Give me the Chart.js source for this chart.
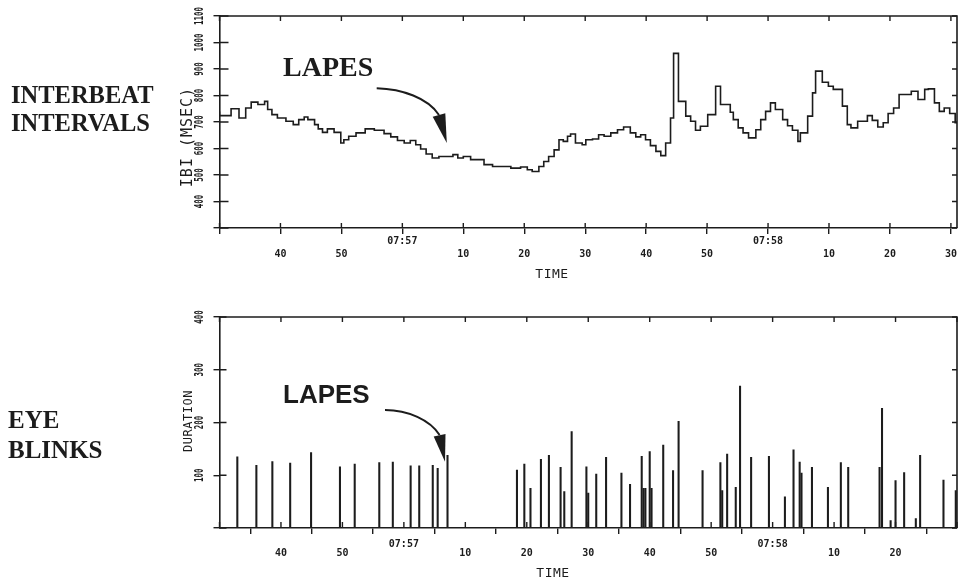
<!DOCTYPE html>
<html>
<head>
<meta charset="utf-8">
<script src="https://cdn.jsdelivr.net/npm/chart.js@4.4.1/dist/chart.umd.min.js"></script>
<style>
html,body{margin:0;padding:0;background:#fff;}
#wrap{position:relative;width:963px;height:582px;overflow:hidden;background:#fff;}
canvas{position:absolute;left:0;}
.lbl{position:absolute;color:#1c1c1c;white-space:nowrap;}
.serif{font-family:"Liberation Serif","Times New Roman",serif;font-weight:bold;}
.sans{font-family:"Liberation Sans",Arial,sans-serif;font-weight:bold;}
.mono{font-family:"DejaVu Sans Mono",monospace;}
.rot{transform:translate(-50%,-50%) rotate(-90deg);}
.ctr{transform:translate(-50%,-50%);}
</style>
</head>
<body>
<div id="wrap">
  <canvas id="ibiChart" width="963" height="291" style="top:0px"></canvas>
  <canvas id="blinkChart" width="963" height="291" style="top:291px"></canvas>

  <div class="lbl serif" style="left:11px;top:80.8px;font-size:24.5px;line-height:28.5px;">INTERBEAT<br>INTERVALS</div>
  <div class="lbl serif" style="left:8px;top:405px;font-size:25px;line-height:30px;">EYE<br>BLINKS</div>
  <div class="lbl serif" style="left:283px;top:53.3px;font-size:28px;line-height:28px;">LAPES</div>
  <div class="lbl sans" style="left:283px;top:381.3px;font-size:26px;line-height:26px;">LAPES</div>

  <div class="lbl mono rot" style="left:187px;top:137px;font-size:15px;letter-spacing:1px;line-height:15px;">IBI (MSEC)</div>
  <div class="lbl mono rot" style="left:188px;top:421px;font-size:12px;letter-spacing:0.5px;line-height:12px;">DURATION</div>
  <div class="lbl mono ctr" style="left:552px;top:273px;font-size:13px;letter-spacing:0.5px;line-height:13px;">TIME</div>
  <div class="lbl mono ctr" style="left:553px;top:572px;font-size:13px;letter-spacing:0.5px;line-height:13px;">TIME</div>

  <svg width="963" height="582" style="position:absolute;left:0;top:0;pointer-events:none;">
    <path d="M376.7,88.3 C402,89 428,98 439,115" fill="none" stroke="#1c1c1c" stroke-width="2"/>
    <polygon points="432.7,116.8 445.3,113.2 446.8,142.9" fill="#1c1c1c"/>
    <path d="M385,410 C408,410 430,420 439.6,435" fill="none" stroke="#1c1c1c" stroke-width="2"/>
    <polygon points="433.7,436.4 445.5,434 445,461.7" fill="#1c1c1c"/>
  </svg>
</div>

<script>
// ---- data (time in seconds after 07:56:00) ----
const ibiTimes = [30.0,31.9,33.2,34.3,35.2,36.3,37.4,37.9,38.6,39.5,
  40.9,42.1,43.0,43.9,44.5,45.6,46.2,46.9,47.7,48.8,
  49.9,50.4,51.2,52.4,53.9,55.4,57.0,58.1,59.2,60.3,
  61.3,62.2,63.0,63.9,64.9,66.0,68.3,69.1,70.0,71.2,
  73.4,74.8,77.8,79.4,80.5,81.3,82.4,83.2,84.0,84.9,
  85.7,86.4,87.1,87.6,88.4,89.5,90.1,91.2,92.2,93.1,
  94.2,95.3,96.3,97.4,98.3,99.1,99.9,100.7,101.6,102.4,
  103.2,104.0,104.5,105.3,106.5,107.3,108.1,108.9,110.1,111.4,
  112.2,113.8,114.3,115.1,115.9,116.8,118.0,118.8,119.6,120.4,
  121.2,122.4,123.2,124.0,124.9,125.3,126.5,127.3,127.8,128.9,
  129.9,130.7,132.2,133.0,133.6,134.7,136.3,137.1,138.0,138.9,
  139.7,140.6,141.5,143.5,144.6,145.7,146.3,147.3,148.1,148.9,
  149.8,150.7,151.3,151.5];
const ibiValues = [740,724,750,715,753,775,766,778,747,728,
  715,703,690,709,719,709,690,674,661,674,
  661,621,633,646,659,674,669,656,644,630,
  621,630,614,598,579,564,570,577,564,570,
  558,539,532,526,530,520,513,532,551,570,
  595,633,627,646,655,621,614,633,636,652,
  646,659,671,681,659,644,652,633,611,589,
  573,621,715,959,778,722,703,669,684,728,
  835,766,737,709,678,659,640,671,709,740,
  772,747,709,686,669,627,659,722,810,892,
  850,835,823,760,690,678,703,724,706,681,
  697,732,753,804,816,785,823,825,772,740,
  753,732,697,697];

const blinkTimes = [32.9,36.0,38.6,41.5,44.9,49.6,52.0,56.0,58.2,61.1,
  62.5,64.7,65.5,67.1,78.4,79.6,80.6,82.3,83.6,85.5,
  86.1,87.3,89.7,90.0,91.3,92.9,95.4,96.8,98.7,99.0,
  99.3,100.0,100.3,102.2,103.8,104.7,108.6,111.5,111.8,112.6,
  114.0,114.7,116.5,119.4,122.0,123.4,124.4,124.7,126.4,129.0,
  131.1,132.3,137.4,137.8,139.2,140.0,141.4,143.3,144.0,147.8,149.8];
const blinkDurations = [135,119,126,123,143,116,121,124,125,118,
  118,119,113,138,110,121,75,130,138,115,
  69,183,116,66,102,134,104,83,136,75,
  75,145,75,157,109,202,109,124,71,140,
  77,269,134,136,59,148,125,104,115,77,
  124,115,115,227,14,90,105,18,138,91,71];

const xTickValues = [30,40,50,60,70,80,90,100,110,120,130,140,150];
const xTickMinutes = ["","","","07:57","","","","","","07:58","","",""];
const xTickSecondsTop = ["","40","50","","10","20","30","40","50","","10","20","30"];
const xTickSecondsBottom = ["","40","50","","10","20","30","40","50","","10","20",""];

const ibiTickValues = [300,400,500,600,700,800,900,1000,1100];
const ibiTickLabels = ["","400","500","600","700","800","900","1000","1100"];
const durTickValues = [0,100,200,300,400];
const durTickLabels = ["","100","200","300","400"];

// ---- drawing ----
const INK = '#1c1c1c';
const MONO = '"DejaVu Sans Mono", monospace';

const framePlugin = {
  id: 'frame',
  afterDraw(chart, args, o) {
    const ctx = chart.ctx, a = chart.chartArea;
    const xs = chart.scales.x, ys = chart.scales.y;
    ctx.save();
    ctx.strokeStyle = INK;
    ctx.lineWidth = 1.6;
    ctx.beginPath();
    ctx.moveTo(a.left, a.top); ctx.lineTo(a.right, a.top); ctx.lineTo(a.right, a.bottom);
    ctx.stroke();
    ctx.lineWidth = 1.4;
    ctx.beginPath();
    xs.ticks.forEach(t => {
      const px = xs.getPixelForValue(t.value);
      if (px > a.right + 0.5) return;
      ctx.moveTo(px, a.bottom); ctx.lineTo(px, a.bottom - o.inX);
      ctx.moveTo(px, a.top); ctx.lineTo(px, a.top + o.inTop);
    });
    ys.ticks.forEach(t => {
      const py = ys.getPixelForValue(t.value);
      ctx.moveTo(a.left, py); ctx.lineTo(a.left + o.inY, py);
      ctx.moveTo(a.right, py); ctx.lineTo(a.right - o.inR, py);
    });
    ctx.stroke();
    ctx.fillStyle = INK;
    ctx.font = 'bold 12px ' + MONO;
    ctx.textAlign = 'center';
    ctx.textBaseline = 'middle';
    ys.ticks.forEach((t, i) => {
      const lab = o.yLabels[i];
      if (!lab) return;
      const py = ys.getPixelForValue(t.value);
      ctx.save();
      ctx.translate(o.yLabelX, py);
      ctx.rotate(-Math.PI / 2);
      ctx.scale(0.62, 1);
      ctx.fillText(lab, 0, 0);
      ctx.restore();
    });
    ctx.restore();
  }
};

function xScale(max, secLabels, axisHeight, pad, lh) {
  return {
    type: 'linear', min: 30, max: max, offset: false,
    afterBuildTicks: s => { s.ticks = xTickValues.map(v => ({ value: v })); },
    afterFit: s => { s.height = axisHeight; },
    border: { display: true, color: INK, width: 1.6 },
    grid: { drawOnChartArea: false, drawTicks: true, tickLength: 6, color: INK, lineWidth: 1.4 },
    ticks: {
      autoSkip: false, maxRotation: 0, minRotation: 0, padding: pad, color: INK,
      font: { family: MONO, size: 10, weight: 'bold', lineHeight: lh },
      callback: (v, i) => xTickMinutes[i] ? [xTickMinutes[i]] : ["", secLabels[i]]
    }
  };
}

function yScale(min, max, values) {
  return {
    type: 'linear', min: min, max: max,
    afterBuildTicks: s => { s.ticks = values.map(v => ({ value: v })); },
    afterFit: s => { s.width = 219.5; },
    border: { display: true, color: INK, width: 1.6 },
    grid: { drawOnChartArea: false, drawTicks: true, tickLength: 6, color: INK, lineWidth: 1.4 },
    ticks: { display: false }
  };
}

new Chart(document.getElementById('ibiChart'), {
  type: 'line',
  data: {
    datasets: [{
      data: ibiTimes.map((t, i) => ({ x: t, y: ibiValues[i] })),
      borderColor: INK, borderWidth: 1.6, pointRadius: 0, stepped: 'after', fill: false
    }]
  },
  options: {
    responsive: false, animation: false, devicePixelRatio: 1,
    layout: { padding: { left: 0, right: 6, top: 16, bottom: 0 } },
    plugins: {
      legend: { display: false }, tooltip: { enabled: false },
      frame: { inX: 5, inTop: 5, inY: 9, inR: 5, yLabelX: 199.5, yLabels: ibiTickLabels }
    },
    scales: {
      x: xScale(151, xTickSecondsTop, 63, 0.5, 1.3),
      y: yScale(300, 1100, ibiTickValues)
    }
  },
  plugins: [framePlugin]
});

new Chart(document.getElementById('blinkChart'), {
  type: 'bar',
  data: {
    datasets: [{
      data: blinkTimes.map((t, i) => ({ x: t, y: blinkDurations[i] })),
      backgroundColor: INK, borderWidth: 0, barThickness: 1.4, grouped: false
    }]
  },
  options: {
    responsive: false, animation: false, devicePixelRatio: 1,
    layout: { padding: { left: 0, right: 6, top: 26, bottom: 0 } },
    plugins: {
      legend: { display: false }, tooltip: { enabled: false },
      frame: { inX: 6, inTop: 5, inY: 7, inR: 5, yLabelX: 200, yLabels: durTickLabels }
    },
    scales: {
      x: xScale(150, xTickSecondsBottom, 54, 6, 0.9),
      y: yScale(0, 400, durTickValues)
    }
  },
  plugins: [framePlugin]
});
</script>
</body>
</html>
